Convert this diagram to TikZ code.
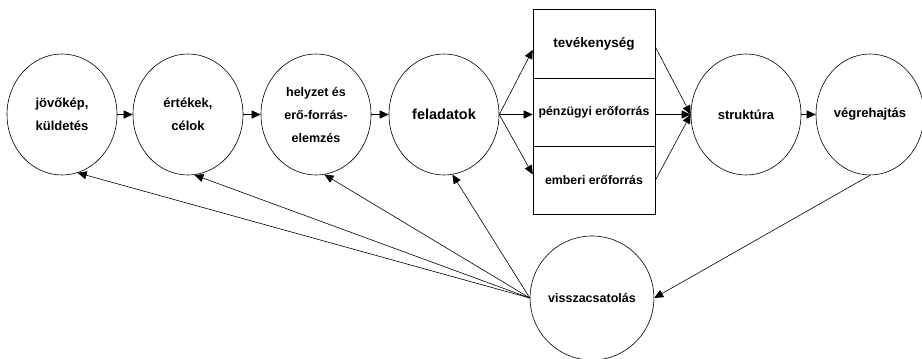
\documentclass[tikz,border=0pt]{standalone}
\usepackage{fontspec}
\setmainfont{Liberation Sans}
\usetikzlibrary{shapes.geometric,arrows.meta}

\tikzset{
  kor/.style={draw,ellipse,minimum width=110pt,minimum height=121pt,inner sep=0pt,
    align=center,font=\bfseries\fontsize{13}{23}\selectfont},
  cella/.style={draw,rectangle,minimum width=122pt,minimum height=68.3pt,inner sep=0pt,
    font=\bfseries\fontsize{12.3}{14}\selectfont},
  nyil/.style={-{Triangle[length=9pt,width=8pt]}}
}

\begin{document}
\begin{tikzpicture}[x=1pt,y=1pt,line width=0.6pt]
  \useasboundingbox (0,0) rectangle (922,359);
  % kozepso sor
  \node[kor] (jovokep) at (62,244.5) {jövőkép,\\küldetés};
  \node[kor] (ertekek) at (188,244.5) {értékek,\\célok};
  \node[kor,font=\bfseries\fontsize{12.5}{23}\selectfont] (helyzet) at (316,244.5) {helyzet és\\erő-forrás-\\elemzés};
  \node[kor,font=\bfseries\fontsize{14.5}{23}\selectfont] (feladat) at (444,244.5) {feladatok};
  \node[cella,font=\bfseries\fontsize{13.5}{14}\selectfont] (tev) at (594,315.2) {tevékenység};
  \node[cella] (penz) at (594,246.9) {pénzügyi erőforrás};
  \node[cella] (emb) at (594,178.6) {emberi erőforrás};
  \node[kor] (strukt) at (746,244.5) {struktúra};
  \node[kor,minimum width=108pt] (vegre) at (870,244.5) {végrehajtás};
  \node[kor,minimum height=124pt,font=\bfseries\fontsize{12.5}{23}\selectfont] (vissza) at (592,61) {visszacsatolás};

  \draw[nyil] (jovokep) -- (ertekek);
  \draw[nyil] (ertekek) -- (helyzet);
  \draw[nyil] (helyzet) -- (feladat);
  \draw[nyil] (feladat.east) -- ([yshift=-6pt]tev.west);
  \draw[nyil] (feladat.east) -- (feladat.east -| penz.west);
  \draw[nyil] (feladat.east) -- ([yshift=6pt]emb.west);
  \draw[nyil] ([yshift=-3pt]tev.east) -- (strukt.west);
  \draw[nyil] (strukt.west -| penz.east) -- (strukt.west);
  \draw[nyil] (emb.east) -- (strukt.west);
  \draw[nyil] (strukt) -- (vegre);

  % visszacsatolas
  \draw[nyil] (vegre.-90) -- (vissza.east);
  \draw[nyil] (vissza.west) -- (jovokep.-75);
  \draw[nyil] (vissza.west) -- (ertekek.-84);
  \draw[nyil] (vissza.west) -- (helyzet.-82);
  \draw[nyil] (vissza.west) -- (feladat.-82);
\end{tikzpicture}
\end{document}
